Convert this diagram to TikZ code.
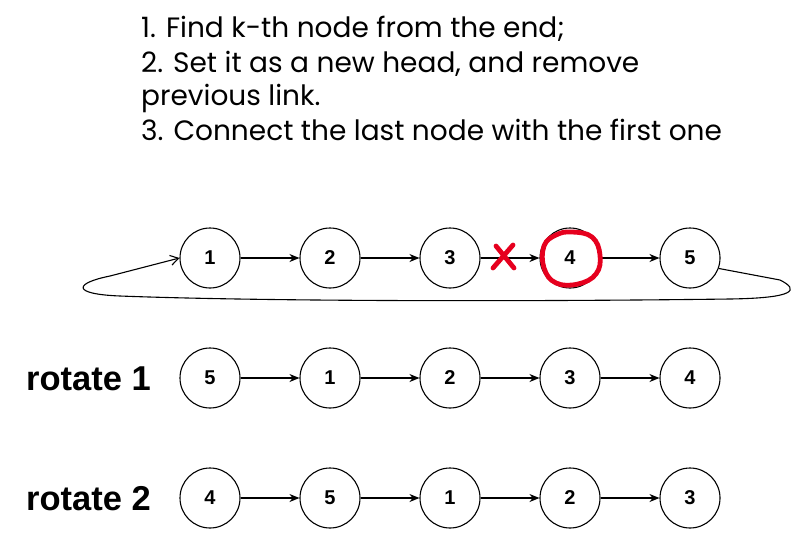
\documentclass[tikz,border=0pt]{standalone}
\usepackage{fontspec}
\setmainfont{Liberation Sans}
\newfontfamily\handfont{Poppins}
\usetikzlibrary{arrows.meta}
\definecolor{markred}{RGB}{230,0,30}
\begin{document}
\begin{tikzpicture}[x=1pt,y=-1pt,
  lnode/.style={circle,draw,line width=1.1pt,minimum size=60pt,inner sep=0pt,font=\fontsize{20}{20}\selectfont\bfseries},
  link/.style={line width=1.1pt,-{Stealth[length=10pt,width=8pt]}},
  note/.style={anchor=base west,inner sep=0pt,font=\handfont\fontsize{28}{28}\selectfont},
  rlabel/.style={anchor=base west,inner sep=0pt,font=\fontsize{34.5}{34.5}\selectfont\bfseries}]
\useasboundingbox (0,0) rectangle (799,538);
% notes
\node[note] (t1) at (141,37) {1. Find k-th node from the end;};
\node[note] (t2) at (141,72) {2. Set it as a new head, and remove};
\node[note] (t3) at (141,105) {previous link.};
\node[note] (t4) at (141,140) {3. Connect the last node with the first one};
% row 1
\foreach \i/\x in {1/210,2/330,3/450,4/570,5/690}{
  \node[lnode] (a\i) at (\x,258) {\i};
}
\draw[link] (a1) -- (a2);
\draw[link] (a2) -- (a3);
\draw[link] (a3) -- (a4);
\draw[link] (a4) -- (a5);
% loop back
\draw[line width=1.1pt,-{Straight Barb[length=8pt,width=10pt]}]
  (a5.-20) -- (780,280) .. controls (800,290) and (795,298) .. (730,299)
  .. controls (500,302) and (250,301) .. (120,296)
  .. controls (70,294) and (75,283) .. (110,276) -- (a1.west);
% red marks
\draw[markred,line width=4.8pt,line cap=round]
  (496,246) -- (514,268) (513,245) -- (493,268);
\draw[markred,line width=4.8pt,line cap=round]
  plot[smooth cycle,tension=0.7] coordinates {(572,232) (592,237) (600,255) (596,274) (578,284) (556,283) (544,268) (544,246) (556,235)};
% row 2
\node[rlabel] (r1) at (26,390) {rotate 1};
\foreach \i/\v/\x in {1/5/210,2/1/330,3/2/450,4/3/570,5/4/690}{
  \node[lnode] (b\i) at (\x,378) {\v};
}
\draw[link] (b1) -- (b2);
\draw[link] (b2) -- (b3);
\draw[link] (b3) -- (b4);
\draw[link] (b4) -- (b5);
% row 3
\node[rlabel] (r2) at (26,510) {rotate 2};
\foreach \i/\v/\x in {1/4/210,2/5/330,3/1/450,4/2/570,5/3/690}{
  \node[lnode] (c\i) at (\x,498) {\v};
}
\draw[link] (c1) -- (c2);
\draw[link] (c2) -- (c3);
\draw[link] (c3) -- (c4);
\draw[link] (c4) -- (c5);
\end{tikzpicture}
\end{document}
